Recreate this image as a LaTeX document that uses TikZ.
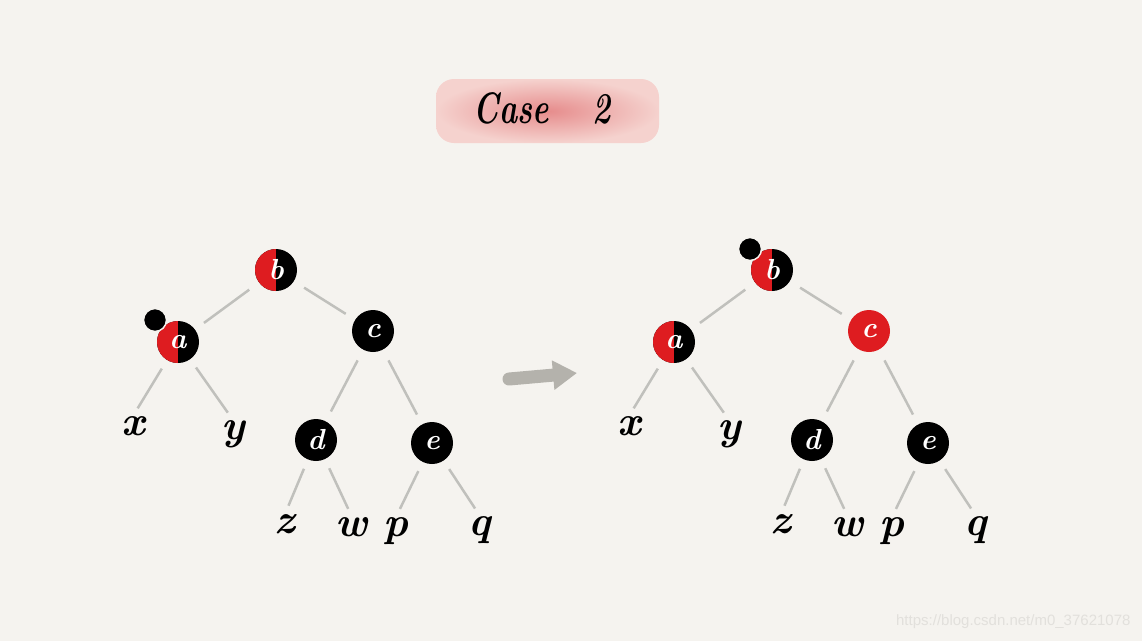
\documentclass[tikz,border=0pt]{standalone}
\usepackage{fontspec}
\newfontfamily\wmfont{Liberation Sans}
\usetikzlibrary{arrows.meta}

\definecolor{bgcol}{RGB}{245,243,239}
\definecolor{nodered}{RGB}{222,28,32}
\definecolor{linegray}{RGB}{192,192,188}
\definecolor{arrowgray}{RGB}{180,178,172}
\definecolor{blobdark}{RGB}{230,140,140}
\definecolor{bloblight}{RGB}{245,210,206}
\definecolor{wmgray}{RGB}{226,224,220}

\tikzset{
  tnode/.style={circle,minimum size=42pt,inner sep=0pt,text=white,font=\fontsize{29}{29}\selectfont\bfseries\itshape},
  halfnode/.style={tnode,fill=black,path picture={\fill[nodered](path picture bounding box.south west)rectangle(path picture bounding box.north);}},
  leaf/.style={anchor=north,inner sep=0pt,text height=19pt,text depth=0pt,font=\fontsize{42}{42}\selectfont\bfseries\itshape},
  dot/.style={circle,fill=black,draw=bgcol,line width=1.5pt,minimum size=23pt,inner sep=0pt},
  edge/.style={draw=linegray,line width=2.5pt,shorten <=12pt,shorten >=11pt},
  leafedge/.style={draw=linegray,line width=2.5pt,shorten <=10pt,shorten >=9pt}
}

\begin{document}
\begin{tikzpicture}[x=1pt,y=-1pt,>=latex]
        \fill[bgcol](0,0)rectangle(1142,641);
        % title
        \shade[inner color=blobdark,outer color=bloblight,rounded corners=18pt](436,79)rectangle(659,143);
        \node[font=\fontsize{44}{46}\selectfont\bfseries\itshape](title)at(542,108){\scalebox{0.7}[1]{Case\hspace{62pt}2}};
        % the two trees
        \foreach \tr/\sh/\cc in{L/0/black,R/496/nodered}{
        \begin{scope}[xshift=\sh]
        \node[halfnode](\tr-b)at(276,270){b};
        \node[halfnode](\tr-a)at(178,342){a};
        \node[tnode,fill=\cc](\tr-c)at(373,331){c};
        \node[tnode,fill=black](\tr-d)at(316,440){d};
        \node[tnode,fill=black](\tr-e)at(432,443){e};
        \draw[edge](\tr-b)--(\tr-a);
        \draw[edge](\tr-b)--(\tr-c);
        \draw[edge](\tr-c)--(\tr-d);
        \draw[edge](\tr-c)--(\tr-e);
        \foreach \lf/\lx/\ly/\up in{x/133/416/a,y/233/420/a,z/285/514/d,w/352/517/d,p/396/517/e,q/480/516/e}{
        \node[leaf](\tr-\lf)at(\lx,\ly){\lf};
        \draw[leafedge](\tr-\up)--(\tr-\lf.north);
        }
        \end{scope}
        }
        \node[dot](dotL)at(155,320){};
        \node[dot](dotR)at(750,249){};
        % arrow
        \coordinate(arrS)at(509,379);
        \coordinate(arrE)at(577,373);
        \draw[arrowgray,line width=13pt,line cap=round,-{Triangle[length=24pt,width=28pt]}](arrS)--(arrE);
        \node[font=\wmfont\fontsize{15}{15}\selectfont,text=wmgray,anchor=east](wm)at(1134,622){https://blog.csdn.net/m0\_37621078};
    \end{tikzpicture}
\end{document}
